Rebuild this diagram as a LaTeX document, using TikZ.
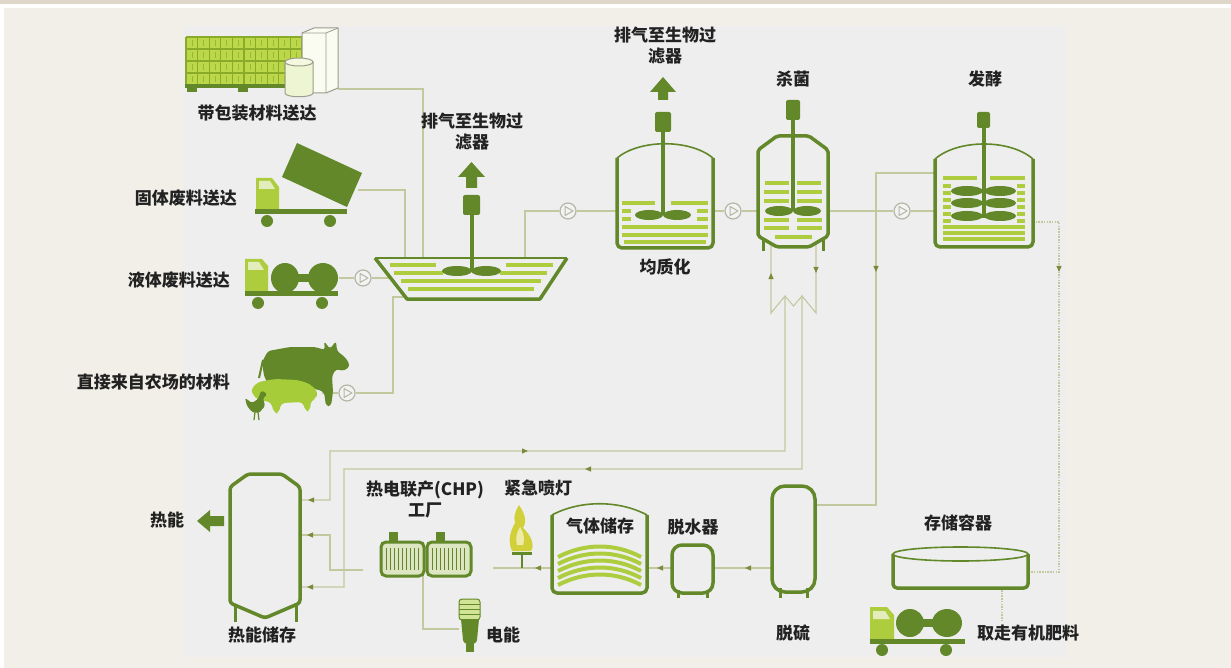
\documentclass[tikz,border=0pt]{standalone}
\usepackage{fontspec}
\newfontfamily\cjk{Noto Sans CJK SC}
\usetikzlibrary{arrows.meta,decorations.markings}
\definecolor{bgc}{HTML}{F2EFE8}
\definecolor{bandc}{HTML}{DED7CA}
\definecolor{panelc}{HTML}{EEEEEE}
\definecolor{dk}{HTML}{628829}
\definecolor{lt}{HTML}{AECD3E}
\definecolor{pipec}{HTML}{C3C89E}
\definecolor{arrc}{HTML}{7A8B3A}
\definecolor{txt}{HTML}{222222}
\definecolor{valvec}{HTML}{B4B6A8}
\definecolor{valvef}{HTML}{F3F3F1}
\definecolor{palc}{HTML}{BCD84A}
\definecolor{palg}{HTML}{8AAA2A}
\definecolor{boxc}{HTML}{9C9C8C}
\definecolor{flamec}{HTML}{D2D03A}
\definecolor{flamel}{HTML}{EEEAA8}
\definecolor{grill}{HTML}{DDE5C2}
\definecolor{pigc}{HTML}{A6CC3A}

\tikzset{
  lbl/.style={font=\cjk\bfseries\fontsize{17}{21}\selectfont, text=txt, inner sep=0pt, align=center},
  pipe/.style={draw=pipec, line width=1.1pt},
  dotpipe/.style={pipe, dash pattern=on 1.5pt off 1.2pt},
  wall/.style={draw=dk, line width=3.5pt, line join=round},
  lid/.style={draw=dk, line width=1.6pt},
  stripe/.style={draw=lt, line width=4pt},
  fstripe/.style={draw=lt, line width=3.5pt},
  shaft/.style={draw=dk, line width=4pt},
  valve/.style={circle, draw=valvec, fill=valvef, line width=1.2pt, minimum size=16pt, inner sep=0pt,
     path picture={\draw[valvec, line width=1pt, line join=round]
        ([shift={(-3pt,4.5pt)}]path picture bounding box.center) --
        ([shift={(5pt,0pt)}]path picture bounding box.center) --
        ([shift={(-3pt,-4.5pt)}]path picture bounding box.center) -- cycle;}},
  fwd/.style={postaction={decorate,decoration={markings,mark=at position #1 with {\arrow{Triangle[length=6pt,width=5pt,color=arrc]}}}}},
  bwd/.style={postaction={decorate,decoration={markings,mark=at position #1 with {\arrowreversed{Triangle[length=6pt,width=5pt,color=arrc]}}}}},
}

\begin{document}
\begin{tikzpicture}[x=1pt,y=-1pt]
\useasboundingbox (0,0) rectangle (1231,668);
% backdrop
\fill[bgc] (0,0) rectangle (1231,668);
\fill[bandc] (0,0) rectangle (1231,4);
\fill[white] (0,4) rectangle (1231,8);
\fill[white] (0,8) rectangle (4,668);
\fill[panelc] (183,26) rectangle (1066,657);

% ---------- connection points ----------
\coordinate (pkgout) at (338,89);
\coordinate (hopin1) at (423,258);
\coordinate (solout) at (358,190);
\coordinate (hopin2) at (405,258);
\coordinate (liqout) at (339,278);
\coordinate (hopL) at (390,278);
\coordinate (farmout) at (322,393);
\coordinate (farmbend) at (393,297);
\coordinate (hopBL) at (405,297);
\coordinate (hopR) at (525,258);
\coordinate (homW) at (617,211);
\coordinate (homE) at (713,211);
\coordinate (stW) at (758,211);
\coordinate (stE) at (828,211);
\coordinate (stBL) at (771,244);
\coordinate (stBR) at (816,244);
\coordinate (fmW1) at (935,173);
\coordinate (fmW2) at (935,211);
\coordinate (fmE) at (1033,222);
\coordinate (dsbend) at (876,505);
\coordinate (dsE) at (815,505);
\coordinate (dsW) at (772,568);
\coordinate (dhE) at (713,568);
\coordinate (dhW) at (672,568);
\coordinate (gsE) at (647,568);
\coordinate (gsW) at (552,568);
\coordinate (chpin) at (493,568);
\coordinate (chpout) at (363,570);
\coordinate (chpB) at (423,576);
\coordinate (bulbW) at (459,629);
\coordinate (hsE1) at (300,500);
\coordinate (hsE2) at (300,535);
\coordinate (hsE3) at (300,587);
\coordinate (stobend) at (1059,572);
\coordinate (stoE) at (1028,572);
\coordinate (stoB) at (1002,590);
\coordinate (truckin) at (1002,620);

% ---------- valves ----------
\node[valve] (v1) at (363,278) {};
\node[valve] (v2) at (347,393) {};
\node[valve] (v3) at (568,211) {};
\node[valve] (v4) at (733,211) {};
\node[valve] (v5) at (902,211) {};

% ---------- pipes ----------
\draw[pipe] (pkgout) -| (hopin1);
\draw[pipe] (solout) -| (hopin2);
\draw[pipe] (liqout) -- (v1) -- (hopL);
\draw[pipe] (farmout) -- (v2);
\draw[pipe] (v2) -| (farmbend) -- (hopBL);
\draw[pipe] (hopR) |- (v3);
\draw[pipe] (v3) -- (homW);
\draw[pipe] (homE) -- (v4) -- (stW);
\draw[pipe] (stE) -- (v5) -- (fmW2);
\draw[pipe, fwd=158pt] (fmW1) -| (dsbend) -- (dsE);
\draw[dotpipe, fwd=76pt] (fmE) -| (stobend) -- (stoE);
\draw[dotpipe] (stoB) -- (truckin);
\draw[pipe, fwd=27pt] (dsW) -- (dhE);
\draw[pipe, fwd=15pt] (dhW) -- (gsE);
\draw[pipe, fwd=17pt] (gsW) -- (chpin);
\draw[pipe] (chpB) |- (bulbW);
\draw[pipe, fwd=91pt] (chpout) -- (330,570) -- (330,535) -- (hsE2);
% heating loop through the sterilisation jacket
\draw[pipe, bwd=8pt, fwd=277pt, fwd=751pt] (hsE1) -- (330,500) -- (330,451) -- (785,451) -- (785,296) -- (771,313) -- (stBL);
\draw[pipe, fwd=29pt, fwd=481pt, fwd=877pt] (stBR) -- (816,313) -- (802,296) -- (802,469) -- (344,469) -- (344,587) -- (hsE3);
\draw[pipe] (785,296) -- (793.5,306) -- (802,296);

% ---------- packaged goods on a pallet ----------
\fill[palc] (186,37) rectangle (302,84);
\foreach \i in {0,...,10} \draw[palg, line width=1.2pt] ({186+11.6*\i},37) -- ({186+11.6*\i},84);
\foreach \j in {37,49,61,73} \draw[palg, line width=1.2pt] (186,\j) -- (302,\j);
\foreach \i in {0,...,9} \foreach \j in {40,52,64,76}
  \draw[palg!70!palc, line width=0.8pt] ({192+11.6*\i},\j) -- ({192+11.6*\i},{\j+6});
\fill[dk] (185,84) rectangle (302,88);
\fill[dk] (187,88) rectangle (197,92);
\fill[dk] (238,88) rectangle (248,92);
\fill[dk] (290,88) rectangle (300,92);
\filldraw[fill=white!92!palc, draw=boxc, line width=1pt, line join=round]
  (302,33) -- (314,28) -- (338,28) -- (338,88) -- (326,93) -- (302,93) -- cycle;
\draw[boxc, line width=0.8pt] (302,33) -- (326,33) -- (338,28) (326,33) -- (326,93);
\filldraw[fill=white!75!palc, draw=boxc, line width=1pt] (285,62) -- (285,93) .. controls (285,98) and (313,98) .. (313,93) -- (313,62);
\filldraw[fill=white!82!palc, draw=boxc, line width=1pt] (299,62) ellipse[x radius=14, y radius=4];

% ---------- tipper truck ----------
\fill[lt] (256,178) -- (272,178) -- (279,187) -- (279,209) -- (256,209) -- cycle;
\fill[white!65!lt] (259,181) -- (270,181) -- (275,189) -- (259,189) -- cycle;
\fill[dk] (297,143) -- (362,173) -- (347,207) -- (282,177) -- cycle;
\fill[dk] (255,209) rectangle (347,214);
\fill[dk] (267,221) circle[radius=6];
\fill[dk] (330,221) circle[radius=6];

% ---------- tanker truck (delivery) ----------
\fill[lt] (245,259) -- (262,259) -- (268,266) -- (268,291) -- (245,291) -- cycle;
\fill[white!65!lt] (248,262) -- (259,262) -- (264,270) -- (248,270) -- cycle;
\fill[dk] (298,274) rectangle (312,282);
\fill[dk] (285,278) ellipse[x radius=14, y radius=15];
\fill[dk] (323,278) ellipse[x radius=15, y radius=15];
\fill[dk] (245,291) rectangle (338,296);
\fill[dk] (258,303) circle[radius=6];
\fill[dk] (322,303) circle[radius=6];

% ---------- livestock ----------
\fill[dk, rounded corners=3pt] (262,362) -- (268,351) -- (290,347) -- (315,347) -- (325,350) -- (324,341) -- (330,349)
  -- (336,341) -- (337,351) -- (346,358) -- (350,366) -- (344,371) -- (336,369) -- (332,376) -- (333,392)
  -- (331,406) -- (326,406) -- (324,392) -- (316,389) -- (270,388) -- (264,376) -- cycle;
\draw[dk, line width=2pt] (263,360) -- (259,378);
\fill[pigc, rounded corners=4pt] (251,389) -- (258,382) -- (275,379) -- (298,380) -- (310,384) -- (318,392)
  -- (316,399) -- (311,400) -- (310,411) -- (305,411) -- (303,402) -- (281,403) -- (279,413) -- (274,413)
  -- (271,402) -- (258,400) -- (253,395) -- cycle;
\fill[dk, rounded corners=1.5pt] (245,398) -- (252,403) -- (258,399) -- (261,391) -- (265,392) -- (267,395)
  -- (263,398) -- (265,406) -- (259,413) -- (252,412) -- (247,406) -- cycle;
\draw[dk, line width=1.2pt] (255,412) -- (254,420) (258,412) -- (259,420);

% ---------- mixing pit ----------
\draw[stripe] (390,265) -- (436,265) (506,265) -- (553,265);
\draw[stripe] (394,273) -- (443,273) (500,273) -- (547,273);
\draw[stripe] (401,281) -- (541,281);
\draw[stripe] (408,289) -- (534,289);
\draw[dk, line width=3.5pt, line join=round] (375,258) -- (407,299) -- (540,299) -- (567,258);
\draw[dk, line width=1.8pt] (375,258) -- (567,258);
\draw[shaft] (471.5,215) -- (471.5,270);
\fill[dk] (457,271) ellipse[x radius=15, y radius=5];
\fill[dk] (486,271) ellipse[x radius=15, y radius=5];
\fill[dk, rounded corners=2pt] (463,195) rectangle (480,215);
\fill[dk] (466,188) -- (466,177) -- (458,177) -- (471.5,162) -- (485,177) -- (477,177) -- (477,188) -- cycle;

% ---------- homogenisation tank ----------
\draw[stripe] (622,203) -- (655,203) (671,203) -- (708,203);
\draw[stripe] (622,211) -- (631,211) (697,211) -- (708,211);
\draw[stripe] (622,219) -- (631,219) (697,219) -- (708,219);
\draw[stripe] (622,227) -- (708,227);
\draw[stripe] (622,235) -- (708,235);
\draw[stripe] (624,242) -- (706,242);
\draw[wall, rounded corners=5pt] (617,158) -- (617,248) -- (713,248) -- (713,158);
\draw[lid] (617,158) .. controls (640,139) and (690,139) .. (713,158);
\draw[shaft] (663,132) -- (663,215);
\fill[dk] (649,215) ellipse[x radius=14, y radius=5];
\fill[dk] (677,215) ellipse[x radius=14, y radius=5];
\fill[dk, rounded corners=2pt] (655,112) rectangle (671,132);
\fill[dk] (658,100) -- (658,92) -- (650,92) -- (663,77) -- (676,92) -- (668,92) -- (668,100) -- cycle;

% ---------- sterilisation tank ----------
\draw[stripe] (765,183) -- (789,183) (797,183) -- (821,183);
\draw[stripe] (764,192) -- (789,192) (797,192) -- (822,192);
\draw[stripe] (764,201) -- (789,201) (797,201) -- (822,201);
\draw[stripe] (764,220) -- (789,220) (797,220) -- (822,220);
\draw[stripe] (764,228) -- (789,228) (797,228) -- (822,228);
\draw[stripe] (775,237) -- (812,237);
\draw[wall, rounded corners=2pt] (758,150) -- (777,136) -- (809,136) -- (828,150) -- (828,236) -- (809,247) -- (777,247) -- (758,236) -- cycle;
\draw[dk, line width=3pt] (763,240) -- (763,251) (823,240) -- (823,251);
\draw[shaft] (793,120) -- (793,211);
\fill[dk] (779,211) ellipse[x radius=14, y radius=5];
\fill[dk] (807,211) ellipse[x radius=14, y radius=5];
\fill[dk, rounded corners=2pt] (786,100) rectangle (800,120);

% ---------- fermenter ----------
\draw[fstripe] (943,178) -- (977,178) (990,178) -- (1025,178);
\foreach \y in {186,193,200,207,214,221}
  \draw[fstripe] (943,\y) -- (951,\y) (1017,\y) -- (1025,\y);
\draw[fstripe] (943,227) -- (1025,227);
\draw[fstripe] (943,233) -- (1025,233);
\draw[fstripe] (943,239) -- (1025,239);
\draw[wall, rounded corners=5pt] (935,159) -- (935,247) -- (1033,247) -- (1033,159);
\draw[lid] (935,159) .. controls (958,139) and (1010,139) .. (1033,159);
\draw[shaft] (983.5,128) -- (983.5,218);
\foreach \y in {191,203,216} {
  \fill[dk] (967,\y) ellipse[x radius=16, y radius=5];
  \fill[dk] (1000,\y) ellipse[x radius=16, y radius=5];
}
\fill[dk, rounded corners=2pt] (977,112) rectangle (990,128);

% ---------- digestate store and collection truck ----------
\draw[wall, rounded corners=4pt] (893,554) -- (893,588) -- (1028,588) -- (1028,554);
\draw[dk, line width=1.6pt, fill=panelc] (960.5,554) ellipse[x radius=67.5, y radius=7];
\fill[lt] (870,607) -- (887,607) -- (894,615) -- (894,639) -- (870,639) -- cycle;
\fill[white!65!lt] (873,611) -- (885,611) -- (890,619) -- (873,619) -- cycle;
\fill[dk] (922,619) rectangle (936,627);
\fill[dk] (910,623) ellipse[x radius=14, y radius=14];
\fill[dk] (947,623) ellipse[x radius=15, y radius=14];
\fill[dk] (870,639) rectangle (965,644);
\fill[dk] (882,650) circle[radius=6];
\fill[dk] (946,650) circle[radius=6];

% ---------- gas treatment train ----------
\draw[wall, rounded corners=13pt] (772,486) rectangle (815,592);
\draw[dk, line width=3pt] (780,588) -- (780,598) (807,588) -- (807,598);
\draw[wall, rounded corners=10pt] (672,545) rectangle (713,593);
\draw[dk, line width=3pt] (678,590) -- (678,598) (707,590) -- (707,598);
\foreach \k in {0,...,4}
  \draw[stripe] (558,{557+7*\k}) .. controls (585,{543+7*\k}) and (615,{543+7*\k}) .. (641,{557+7*\k});
\draw[wall, rounded corners=5pt] (552,515) -- (552,593) -- (647,593) -- (647,515);
\draw[lid] (552,515) .. controls (580,500) and (619,500) .. (647,515);

% ---------- emergency flare ----------
\draw[dk, line width=2.5pt] (522,553) -- (522,568);
\draw[dk, line width=3pt] (512,553) -- (532,553);
\fill[flamec] (512,551) .. controls (507,540) and (511,530) .. (515,523) .. controls (513,516) and (516,510) .. (519,505)
  .. controls (525,514) and (527,521) .. (523,528) .. controls (531,535) and (535,545) .. (531,551) -- cycle;
\fill[flamel] (517,545) .. controls (515,538) and (517,532) .. (520,527) .. controls (524,533) and (525,540) .. (523,545) -- cycle;

% ---------- CHP engines ----------
\fill[dk] (389,532) rectangle (398,543);
\fill[dk] (436,532) rectangle (445,543);
\draw[dk, line width=3pt, fill=grill, rounded corners=5pt] (381,542) rectangle (424,576);
\draw[dk, line width=3pt, fill=grill, rounded corners=5pt] (427,542) rectangle (471,576);
\foreach \x in {386,390,...,420} \draw[dk, line width=1pt] (\x,548) -- (\x,570);
\foreach \x in {432,436,...,466} \draw[dk, line width=1pt] (\x,548) -- (\x,570);

% ---------- light bulb ----------
\draw[dk, line width=1pt, fill=lt!55!white, rounded corners=3pt] (459,599) rectangle (480,620);
\foreach \y in {604,609,614} \draw[dk, line width=1pt] (459,\y) -- (480,\y);
\fill[dk] (461,619) -- (479,619) -- (477,640) .. controls (476,646) and (464,646) .. (463,640) -- cycle;
\fill[dk] (466,644) rectangle (474,652);

% ---------- heat store ----------
\draw[wall, rounded corners=3pt] (230,487) -- (248,474) -- (282,474) -- (300,487) -- (300,603) -- (265,618) -- (230,603) -- cycle;
\draw[dk, line width=3pt] (235,606) -- (235,622) (296,606) -- (296,622);
\fill[dk] (197,521) -- (210,510) -- (210,516) -- (224,516) -- (224,526) -- (210,526) -- (210,532) -- cycle;

% ---------- labels ----------
\node[lbl] (lpkg) at (257,113) {带包装材料送达};
\node[lbl, anchor=east] (lsol) at (237,198) {固体废料送达};
\node[lbl, anchor=east] (lliq) at (230,280) {液体废料送达};
\node[lbl, anchor=east] (lfarm) at (230,382) {直接来自农场的材料};
\node[lbl] (lvent1) at (472,132) {排气至生物过\\滤器};
\node[lbl] (lvent2) at (665,46) {排气至生物过\\滤器};
\node[lbl] (lhom) at (665,267) {均质化};
\node[lbl] (lster) at (793,79) {杀菌};
\node[lbl] (lferm) at (985,79) {发酵};
\node[lbl] (lheat) at (167,520) {热能};
\node[lbl] (lchp) at (425,499) {热电联产(CHP)\\工厂};
\node[lbl] (lflare) at (538,488) {紧急喷灯};
\node[lbl] (lgas) at (600,526) {气体储存};
\node[lbl] (ldry) at (693,527) {脱水器};
\node[lbl] (ldes) at (793,633) {脱硫};
\node[lbl] (lsto) at (958,523) {存储容器};
\node[lbl] (lout) at (1028,633) {取走有机肥料};
\node[lbl] (lhs) at (262,635) {热能储存};
\node[lbl] (lel) at (503,635) {电能};
\end{tikzpicture}
\end{document}
